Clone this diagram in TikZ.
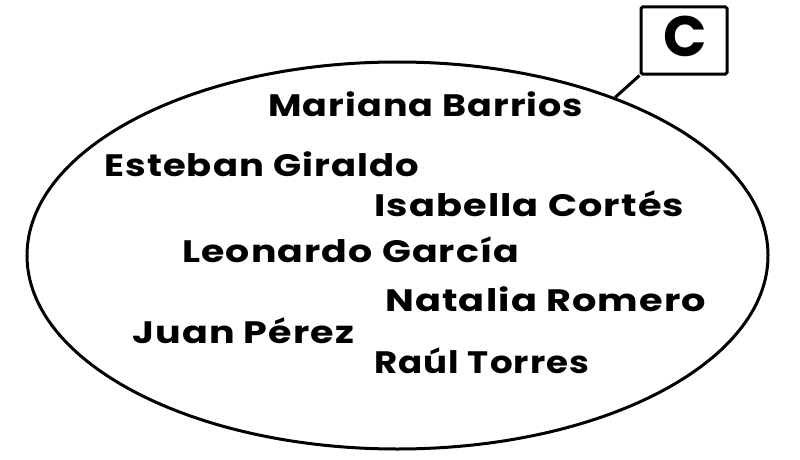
\documentclass[tikz,border=0pt]{standalone}
\usepackage{fontspec}
\setmainfont{Poppins}
\usetikzlibrary{shapes.geometric}
\newcommand\fitname[2]{\resizebox{#1}{\height}{#2}}
\tikzset{
  person/.style={anchor=base west, inner sep=0pt, font=\fontsize{31}{31}\selectfont\bfseries\addfontfeature{LetterSpace=3}},
  lw/.style={line width=3pt}
}
\begin{document}
\begin{tikzpicture}[x=1pt,y=-1pt]
\useasboundingbox (0,0) rectangle (800,460);
\node[ellipse, draw, lw, minimum width=741pt, minimum height=387pt, inner sep=0pt] (E) at (397.5,255.5) {};
\node[rectangle, draw, lw, rounded corners=1.5pt, minimum width=86pt, minimum height=67pt, inner sep=0pt] (B) at (684,40.5) {};
\node[inner sep=0pt, font=\fontsize{57}{57}\selectfont\bfseries] (C) at (685,36.5) {C};
\draw[lw] (B.south west) -- (E.36);
\node[person] (n1) at (268,116) {\fitname{315pt}{Mariana Barrios}};
\node[person] (n2) at (104,176) {\fitname{315pt}{Esteban Giraldo}};
\node[person] (n3) at (374,216) {\fitname{310pt}{Isabella Cortés}};
\node[person] (n4) at (182,262) {\fitname{337pt}{Leonardo García}};
\node[person] (n5) at (385,311) {\fitname{321pt}{Natalia Romero}};
\node[person] (n6) at (132,343) {\fitname{222pt}{Juan Pérez}};
\node[person] (n7) at (374,373) {\fitname{215pt}{Raúl Torres}};
\end{tikzpicture}
\end{document}
